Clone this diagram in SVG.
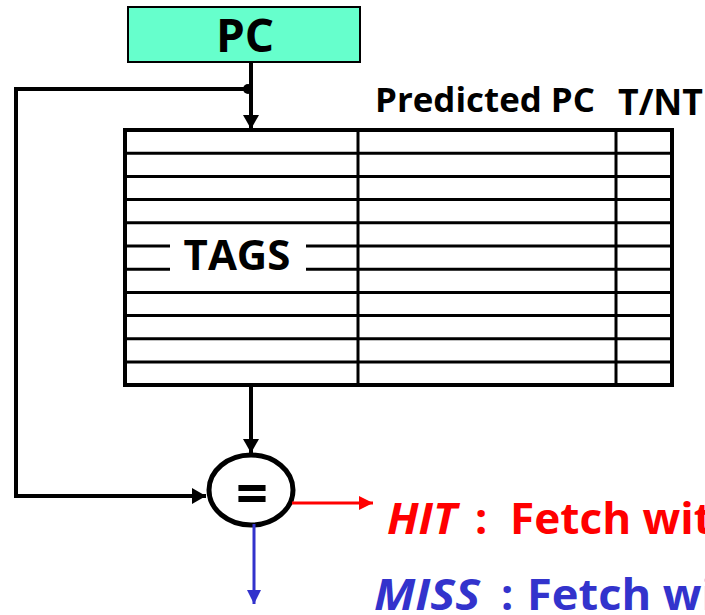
<svg xmlns="http://www.w3.org/2000/svg" width="705" height="615" viewBox="0 0 705 615">
  <style>
    .lbl { font-family: "Open Sans", "Liberation Sans", sans-serif; font-weight: bold; fill: #000; }
    .wire { fill: none; stroke: #000; stroke-width: 4; }
    .grid { fill: none; stroke: #000; stroke-width: 3; }
    .hit { fill: #FF0000; }
    .miss { fill: #3333CC; }
  </style>
  <defs>
    <marker id="arrBlack" markerUnits="userSpaceOnUse" markerWidth="16" markerHeight="16" refX="14" refY="8" orient="auto">
      <path d="M0,0 L14,8 L0,16 Z" fill="#000"/>
    </marker>
    <marker id="arrRed" markerUnits="userSpaceOnUse" markerWidth="16" markerHeight="14" refX="14" refY="7" orient="auto">
      <path d="M0,0 L14,7 L0,14 Z" fill="#FF0000"/>
    </marker>
    <marker id="arrBlue" markerUnits="userSpaceOnUse" markerWidth="16" markerHeight="14" refX="14" refY="7" orient="auto">
      <path d="M0,0 L14,7 L0,14 Z" fill="#3333CC"/>
    </marker>
  </defs>

  <rect width="705" height="615" fill="#fff"/>

  <!-- program counter register -->
  <g id="pc">
    <rect x="128" y="7" width="232" height="55" fill="#66FFCC" stroke="#000" stroke-width="2"/>
    <text class="lbl" x="245" y="52" font-size="46" text-anchor="middle">PC</text>
  </g>

  <!-- column headers -->
  <g id="headers">
    <text class="lbl" x="375" y="112" font-size="34" textLength="220" lengthAdjust="spacingAndGlyphs">Predicted PC</text>
    <text class="lbl" x="618" y="115" font-size="36" textLength="85" lengthAdjust="spacingAndGlyphs">T/NT</text>
  </g>

  <!-- branch target buffer table -->
  <g id="btb">
    <g class="grid">
      <line x1="125" y1="153.2" x2="672" y2="153.2"/>
      <line x1="125" y1="176.4" x2="672" y2="176.4"/>
      <line x1="125" y1="199.6" x2="672" y2="199.6"/>
      <line x1="125" y1="222.8" x2="672" y2="222.8"/>
      <line x1="125" y1="246" x2="672" y2="246"/>
      <line x1="125" y1="269.2" x2="672" y2="269.2"/>
      <line x1="125" y1="292.4" x2="672" y2="292.4"/>
      <line x1="125" y1="315.6" x2="672" y2="315.6"/>
      <line x1="125" y1="338.8" x2="672" y2="338.8"/>
      <line x1="125" y1="362" x2="672" y2="362"/>
      <line x1="358" y1="130" x2="358" y2="385"/>
      <line x1="616" y1="130" x2="616" y2="385"/>
    </g>
    <rect x="125" y="130" width="547" height="255" fill="none" stroke="#000" stroke-width="4"/>
    <!-- label patch over the tag rows -->
    <rect x="170" y="226" width="136" height="46" fill="#fff"/>
    <text class="lbl" x="237" y="270" font-size="42" text-anchor="middle">TAGS</text>
  </g>

  <!-- tag comparator -->
  <g id="compare">
    <ellipse cx="251" cy="490" rx="42" ry="35" fill="#fff" stroke="#000" stroke-width="5"/>
    <text class="lbl" x="252" y="513" font-size="56" text-anchor="middle">=</text>
  </g>

  <!-- result labels -->
  <g id="hit">
    <text class="lbl hit" y="534" font-size="43"><tspan x="387" font-style="italic" textLength="70" lengthAdjust="spacingAndGlyphs">HIT</tspan><tspan x="475">:</tspan><tspan x="510" textLength="203" lengthAdjust="spacingAndGlyphs">Fetch wit</tspan></text>
  </g>
  <g id="miss">
    <text class="lbl miss" y="610" font-size="43"><tspan x="374" font-style="italic" textLength="106" lengthAdjust="spacingAndGlyphs">MISS</tspan><tspan x="501">:</tspan><tspan x="527" textLength="208" lengthAdjust="spacingAndGlyphs">Fetch wit</tspan></text>
  </g>

  <!-- connectors -->
  <g id="connectors">
    <line class="wire" x1="251" y1="62" x2="251" y2="129" marker-end="url(#arrBlack)"/>
    <circle cx="248" cy="89" r="5" fill="#000"/>
    <polyline class="wire" points="249,89 16,89 16,496 206,496" marker-end="url(#arrBlack)"/>
    <line class="wire" x1="251" y1="385" x2="251" y2="453" marker-end="url(#arrBlack)"/>
    <line x1="292" y1="503" x2="373" y2="503" stroke="#FF0000" stroke-width="3" marker-end="url(#arrRed)"/>
    <line x1="254" y1="524" x2="254" y2="604" stroke="#3333CC" stroke-width="3" marker-end="url(#arrBlue)"/>
  </g>
</svg>
